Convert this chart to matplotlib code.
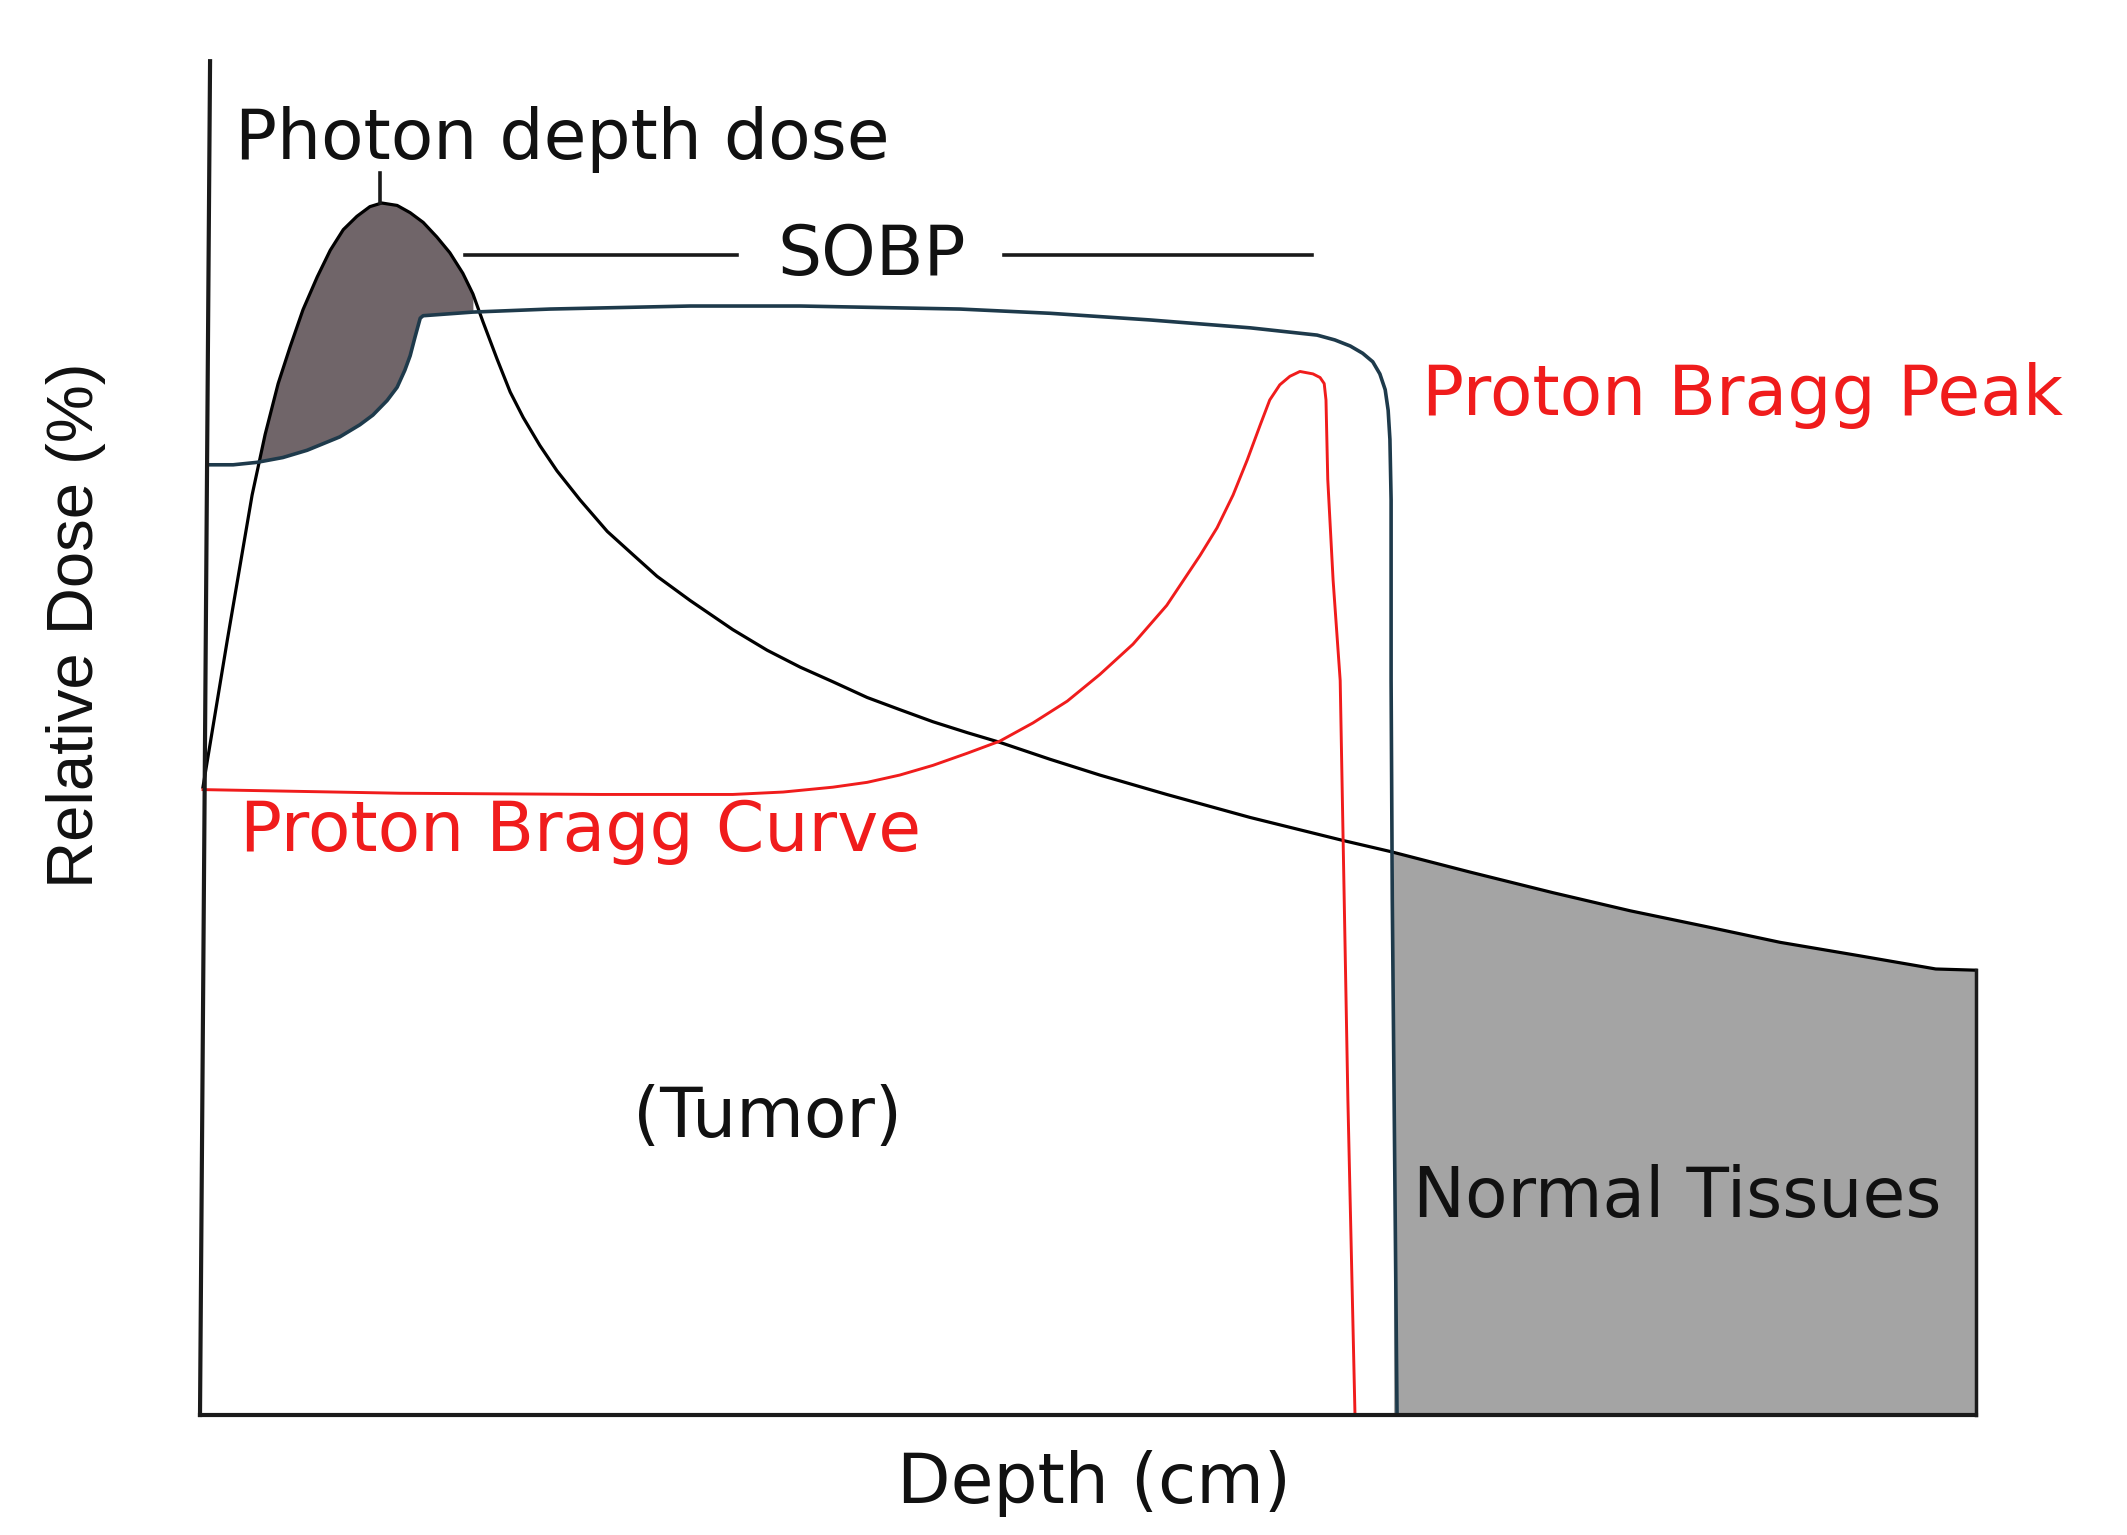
import numpy as np
import matplotlib
matplotlib.use('Agg')
import matplotlib.pyplot as plt

# Photon depth dose (depth in cm, relative dose in %)
photon_depth = [0.05, 0.46, 0.88, 1.10, 1.32, 1.52, 1.74, 1.98, 2.20, 2.42, 2.65, 2.87,
                3.07, 3.33, 3.55, 3.77, 4.00, 4.22, 4.44, 4.61, 4.78, 5.02, 5.24, 5.46,
                5.74, 6.03, 6.42, 6.88, 7.31, 7.72, 8.28, 9.00, 9.58, 10.14, 10.69,
                11.27, 11.82, 12.38, 12.96, 13.51, 14.36, 15.20, 16.33, 17.74, 19.31,
                20.10, 21.45, 22.85, 24.16, 25.44, 26.69, 28.02, 29.32, 30.0]
photon_dose = [51.8, 63.9, 75.9, 80.9, 85.1, 88.1, 91.2, 93.9, 96.1, 97.8, 98.9, 99.7,
               100.0, 99.8, 99.2, 98.4, 97.2, 95.9, 94.2, 92.5, 90.2, 87.1, 84.4, 82.3,
               80.0, 77.9, 75.5, 72.9, 71.0, 69.2, 67.2, 64.8, 63.1, 61.7, 60.5,
               59.2, 58.2, 57.2, 56.3, 55.5, 54.1, 52.8, 51.2, 49.3, 47.4,
               46.5, 44.8, 43.1, 41.6, 40.3, 39.0, 37.9, 36.8, 36.7]

# Spread-out Bragg peak
sobp_depth = [0.17, 0.56, 0.96, 1.40, 1.81, 2.36, 2.70, 2.92, 3.16, 3.33, 3.46, 3.55,
              3.63, 3.72, 3.77, 4.61, 5.91, 8.28, 10.14, 12.84, 14.36, 16.05, 17.74,
              18.87, 19.17, 19.43, 19.64, 19.81, 19.93, 20.02, 20.07, 20.10, 20.12,
              20.12, 20.14, 20.22]
sobp_dose = [78.4, 78.4, 78.6, 79.0, 79.6, 80.7, 81.7, 82.5, 83.7, 84.8, 86.2, 87.4,
             88.9, 90.5, 90.7, 91.0, 91.25, 91.5, 91.5, 91.25, 90.9, 90.35, 89.7,
             89.1, 88.7, 88.2, 87.6, 86.9, 85.9, 84.6, 82.9, 80.5, 75.5,
             60.6, 42.5, 0.0]

# Pristine proton Bragg curve
bragg_depth = [0.05, 3.38, 6.76, 9.00, 9.85, 10.69, 11.27, 11.82, 12.38, 12.96, 13.51,
               14.07, 14.65, 15.20, 15.76, 16.33, 16.89, 17.18, 17.45, 17.69, 17.91,
               18.07, 18.24, 18.41, 18.58, 18.80, 18.92, 18.99, 19.02, 19.05, 19.14,
               19.26, 19.39, 19.51]
bragg_dose = [51.6, 51.3, 51.2, 51.2, 51.4, 51.8, 52.2, 52.8, 53.6, 54.6, 55.6,
              57.1, 58.9, 61.1, 63.6, 66.8, 70.9, 73.2, 75.9, 78.8, 81.7,
              83.75, 85.0, 85.7, 86.1, 85.9, 85.6, 85.1, 83.75, 77.2, 68.9,
              60.6, 26.0, 0.0]

depth_max = 30.0
dose_axis_top = 111.7

red = '#f01c1c'
blue = '#1e3a4b'
dark = '#1a1a1a'
fs = 50
lw = 2.3

fig = plt.figure(figsize=(21.27, 15.35), dpi=100)
ax = fig.add_axes([0, 0, 1, 1])
ax.set_xlim(-200 / 59.2, 1927 / 59.2)
ax.set_ylim(-120 / 12.12, 1415 / 12.12)
ax.axis('off')

pd = np.array(photon_depth)
pv = np.array(photon_dose)
sd = np.array(sobp_depth)
sv = np.array(sobp_dose)

# shaded excess photon dose near the entrance (between photon and SOBP)
xg = np.linspace(sd[0], sd[15], 400)
ph = np.interp(xg, pd, pv)
sb = np.interp(xg, sd, sv)
ax.fill_between(xg, sb, ph, where=ph > sb, color='#706569', lw=0, interpolate=True)

# normal tissue dose beyond the SOBP
xn = np.linspace(20.16, depth_max, 400)
ax.fill_between(xn, 0, np.interp(xn, pd, pv), color='#a4a4a4', lw=0)

ax.plot(pd, pv, color='black', lw=lw, solid_joinstyle='round')
ax.plot(sd, sv, color=blue, lw=lw + 0.3, solid_joinstyle='round')
ax.plot(bragg_depth, bragg_dose, color=red, lw=lw - 0.2, solid_joinstyle='round')

# frame lines
ax.plot([0.17, 0.0], [dose_axis_top, 0.0], color=dark, lw=3.0)
ax.plot([0.0, depth_max], [0.0, 0.0], color=dark, lw=3.0)
ax.plot([depth_max, depth_max], [pv[-1], 0.0], color=dark, lw=2.5)

# annotation marks
ax.plot([3.04, 3.04], [100.0, 102.5], color=dark, lw=2.6)
ax.plot([4.48, 9.07], [95.7, 95.7], color=dark, lw=2.6)
ax.plot([13.58, 18.78], [95.7, 95.7], color=dark, lw=2.6)

ax.text(0.59, 103.6, 'Photon depth dose', fontsize=fs, color='#111111', va='baseline', ha='left')
ax.text(11.35, 94.1, 'SOBP', fontsize=fs, color='#111111', va='baseline', ha='center')
ax.text(20.64, 82.5, 'Proton Bragg Peak', fontsize=fs, color=red, va='baseline', ha='left')
ax.text(0.68, 46.5, 'Proton Bragg Curve', fontsize=fs, color=red, va='baseline', ha='left')
ax.text(9.59, 22.9, '(Tumor)', fontsize=fs, color='#111111', va='baseline', ha='center')
ax.text(20.49, 16.3, 'Normal Tissues', fontsize=fs, color='#111111', va='baseline', ha='left')
ax.text(15.1, -7.3, 'Depth (cm)', fontsize=fs, color='#111111', va='baseline', ha='center')
ax.text(-2.1, 65.2, 'Relative Dose (%)', fontsize=47, color='#111111', rotation=90,
        va='center', ha='center', family='Liberation Sans')

fig.savefig('out.png', dpi=100)
